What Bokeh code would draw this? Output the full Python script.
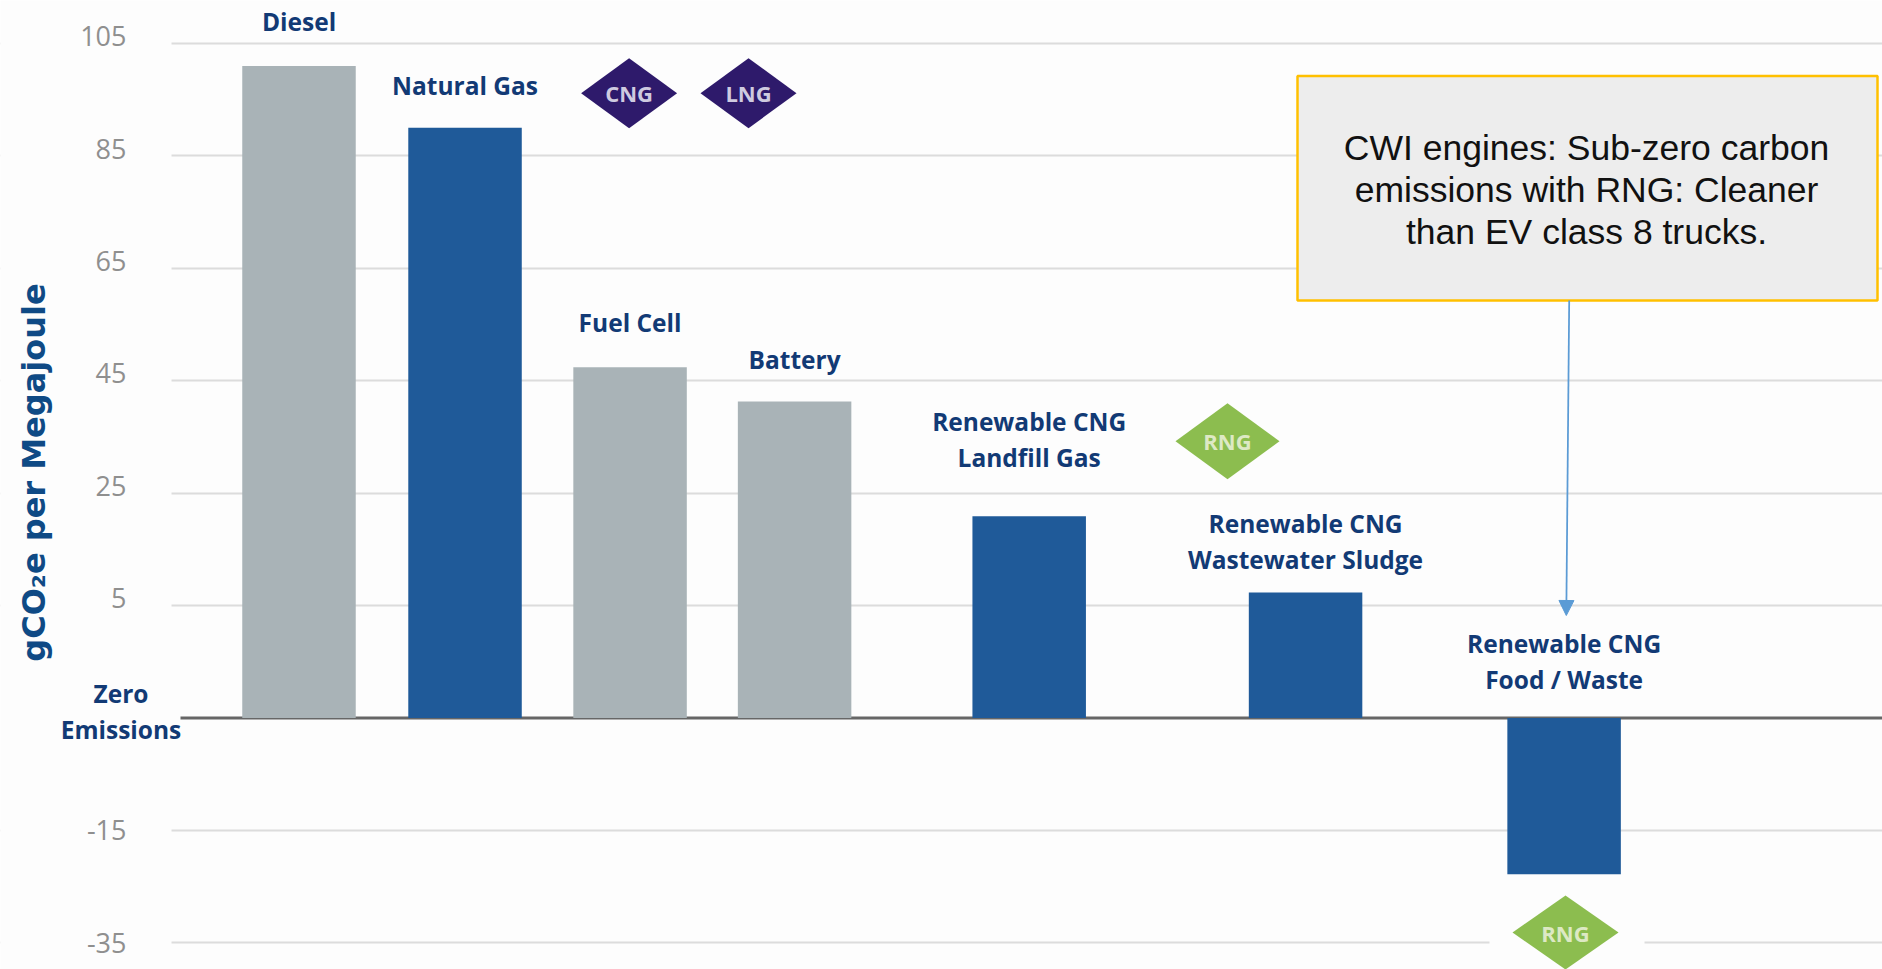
from bokeh.embed import file_html
from bokeh.resources import INLINE
from bokeh.plotting import figure
from bokeh.models import (Arrow, ColumnDataSource, FixedTicker, Grid, Label, LinearAxis,
                          NormalHead, Range1d)
from bokeh.core.properties import value
import math

# Well-to-wheel carbon intensity by fuel pathway, gCO2e per megajoule
categories = ["Diesel", "Natural Gas", "Fuel Cell", "Battery",
              "Renewable CNG Landfill Gas", "Renewable CNG Wastewater Sludge",
              "Renewable CNG Food / Waste"]
emissions = [101, 90, 47.4, 41.3, 20.9, 7.3, -22.8]
bar_groups = ["conventional", "gas", "conventional", "conventional", "gas", "gas", "gas"]
label_lines = [["Diesel"], ["Natural Gas"], ["Fuel Cell"], ["Battery"],
               ["Renewable CNG", "Landfill Gas"],
               ["Renewable CNG", "Wastewater Sludge"],
               ["Renewable CNG", "Food / Waste"]]
tick_labels = ["105", "85", "65", "45", "25", "5", "-15", "-35"]
callout_lines = ["CWI engines: Sub-zero carbon",
                 "emissions with RNG: Cleaner",
                 "than EV class 8 trucks."]

# Horizontal slots of the bars; the grouping leaves wider gaps on the right
slots = [0, 1.005, 2.004, 3.0, 4.42, 6.093, 7.658]
BAR_WIDTH = 0.687

# The printed axis has one grid step on each side of the zero line, so the
# scale runs on a continuous track with the zero line sitting at track -15.
ZERO_TRACK = -15
grid_track = [105, 85, 65, 45, 25, 5, -35, -55]
# Labels above zero stand a little higher than their grid lines
tick_track = [106.3, 86.3, 66.3, 46.3, 26.3, 6.3, -35, -55]


def track(v):
    return v if v > 0 else v - 20


WIDTH, HEIGHT = 1882, 969
LEFT = 171
SLOT_PX = 165.2
SLOT_ZERO_PX = 298.5
TRACK_PX = 5.62
TRACK_105_PX = 43


def sx(px):
    return (px - SLOT_ZERO_PX) / SLOT_PX


def ty(py):
    return 105 - (py - TRACK_105_PX) / TRACK_PX


BG = "#fdfdfd"
NAVY = "#123a75"
colors = {"conventional": "#a9b3b7", "gas": "#1f5a99"}

p = figure(width=WIDTH, height=HEIGHT, output_backend="svg", toolbar_location=None,
           x_range=Range1d(sx(0), sx(WIDTH)), y_range=Range1d(ty(HEIGHT), ty(0)),
           x_axis_location=None, y_axis_location=None,
           min_border_left=0, min_border_right=0, min_border_top=0, min_border_bottom=0,
           background_fill_color=BG, border_fill_color=BG, outline_line_color=None)
p.grid.visible = False

yaxis = LinearAxis(fixed_location=sx(LEFT), ticker=FixedTicker(ticks=tick_track))
yaxis.major_label_overrides = dict(zip(tick_track, tick_labels))
yaxis.axis_line_color = None
yaxis.major_tick_line_color = None
yaxis.minor_tick_line_color = None
yaxis.major_label_standoff = 39
yaxis.major_label_text_font = "Open Sans"
yaxis.major_label_text_font_size = "27px"
yaxis.major_label_text_color = "#8f8f8f"
p.add_layout(yaxis, "left")

p.add_layout(Grid(dimension=1, ticker=FixedTicker(ticks=grid_track),
                  grid_line_color="#dcdcdc", grid_line_width=2))

# Grid lines begin at the plot area's left edge, the margin stays clear
p.quad(left=[sx(0)], right=[sx(LEFT)], top=[ty(0)], bottom=[ty(HEIGHT)],
       fill_color=BG, line_color=None)

# Zero baseline
p.segment(x0=[sx(180)], x1=[sx(WIDTH)], y0=[ZERO_TRACK], y1=[ZERO_TRACK],
          line_color="#666666", line_width=3)

# Bars, all rising or falling from the zero line
source = ColumnDataSource(dict(
    x=slots,
    top=[track(v) if v > 0 else ZERO_TRACK for v in emissions],
    bottom=[ZERO_TRACK if v > 0 else track(v) for v in emissions],
    color=[colors[g] for g in bar_groups],
    name=categories,
))
p.vbar(x="x", width=BAR_WIDTH, top="top", bottom="bottom", fill_color="color",
       line_color=None, source=source)

# Category captions above each bar
caption_rows = [[21], [85], [322], [359], [421, 457], [522.7, 559], [643, 679]]
cap_x, cap_y, cap_t = [], [], []
for slot, lines, rows in zip(slots, label_lines, caption_rows):
    for line, row in zip(lines, rows):
        cap_x.append(slot)
        cap_y.append(ty(row))
        cap_t.append(line)
p.text(x=cap_x, y=cap_y, text=cap_t, text_align="center", text_baseline="middle",
       text_font=value("Open Sans"), text_font_style="bold", text_font_size="24.5px",
       text_color=NAVY)


# Fuel badges: flat diamonds with a short tag
def badge(cx, cy, hw, hh, tag, fill, ink):
    p.patch(x=[sx(cx - hw), sx(cx), sx(cx + hw), sx(cx)],
            y=[ty(cy), ty(cy - hh), ty(cy), ty(cy + hh)],
            fill_color=fill, line_color=None)
    p.text(x=[sx(cx)], y=[ty(cy)], text=[tag], text_align="center", text_baseline="middle",
           text_font=value("Open Sans"), text_font_style="bold", text_font_size="22px",
           text_color=ink)


badge(628.6, 92.7, 48, 35, "CNG", "#2e1a6b", "#cfcbe0")
badge(748, 92.7, 48, 35, "LNG", "#2e1a6b", "#cfcbe0")
badge(1227, 440.7, 52, 38, "RNG", "#8cbd4f", "#dde9c4")

# The lower badge interrupts the bottom grid line
p.quad(left=[sx(1489)], right=[sx(1644)], top=[ty(915)], bottom=[ty(960)],
       fill_color=BG, line_color=None)
badge(1565, 932, 53, 37, "RNG", "#8cbd4f", "#dde9c4")

# Labels beside the zero line
p.text(x=[sx(120.5), sx(120.5)], y=[ty(693), ty(729)], text=["Zero", "Emissions"],
       text_align="center", text_baseline="middle", text_font=value("Open Sans"),
       text_font_style="bold", text_font_size="24.5px", text_color=NAVY)

# Vertical axis title
p.add_layout(Label(x=sx(33), y=ty(472), text="gCO₂e per Megajoule", angle=math.pi / 2,
                   text_align="center", text_baseline="middle", text_font="DejaVu Sans",
                   text_font_style="bold", text_font_size="32px", text_color="#0f4a85"))

# Callout box with its pointer to the food / waste bar
p.quad(left=[sx(1297)], right=[sx(1877)], top=[ty(75.5)], bottom=[ty(300)],
       fill_color="#ededed", line_color="#ffc000", line_width=2.5)
p.text(x=[sx(1586)] * 3, y=[ty(147), ty(189), ty(231.7)], text=callout_lines,
       text_align="center", text_baseline="middle", text_font=value("Liberation Sans"),
       text_font_size="35.5px", text_color="#111111")
p.add_layout(Arrow(x_start=sx(1568.7), y_start=ty(300), x_end=sx(1565.8), y_end=ty(615),
                   line_color="#5b9bd5", line_width=1.75,
                   end=NormalHead(size=15, fill_color="#5b9bd5", line_color="#5b9bd5")))

open("out.html", "w").write(file_html(p, INLINE))
